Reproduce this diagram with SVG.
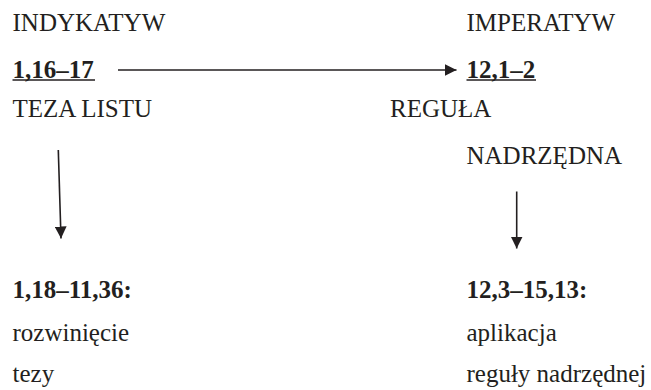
<svg xmlns="http://www.w3.org/2000/svg" width="651" height="390" viewBox="0 0 651 390">
<style>
  text { font-family: 'Liberation Serif', 'Times New Roman', serif; font-size: 25px; fill: #231f20; }
  .b { font-weight: bold; }
  .ul { stroke: #231f20; stroke-width: 1.6; }
  .conn { stroke: #231f20; stroke-width: 1.6; fill: none; }
</style>
<defs>
  <marker id="ah" viewBox="0 0 12 12" refX="12" refY="6" markerWidth="12" markerHeight="12" markerUnits="userSpaceOnUse" orient="auto">
    <path d="M0,0 L12,6 L0,12 Z" fill="#231f20"/>
  </marker>
</defs>
<rect width="651" height="390" fill="#ffffff"/>
<g id="indykatyw">
  <text x="12.5" y="31">INDYKATYW</text>
  <text class="b" x="12.5" y="77.5">1,16–17</text>
  <line class="ul" x1="12.5" y1="80" x2="95" y2="80"/>
  <text x="12.5" y="117">TEZA LISTU</text>
</g>
<g id="imperatyw">
  <text x="466.5" y="31">IMPERATYW</text>
  <text class="b" x="466.5" y="77.5">12,1–2</text>
  <line class="ul" x1="466.5" y1="80" x2="536" y2="80"/>
  <text x="390" y="117">REGUŁA</text>
  <text x="466.5" y="164">NADRZĘDNA</text>
</g>
<g id="rozwiniecie">
  <text class="b" x="12.5" y="298">1,18–11,36:</text>
  <text x="12.5" y="341">rozwinięcie</text>
  <text x="12.5" y="382">tezy</text>
</g>
<g id="aplikacja">
  <text class="b" x="466.5" y="298">12,3–15,13:</text>
  <text x="466.5" y="341">aplikacja</text>
  <text x="466.5" y="382">reguły nadrzędnej</text>
</g>
<g id="connectors">
  <line class="conn" x1="118" y1="70" x2="456.5" y2="70" marker-end="url(#ah)"/>
  <line class="conn" x1="58.3" y1="150" x2="61" y2="238.5" marker-end="url(#ah)"/>
  <line class="conn" x1="516.7" y1="191.5" x2="516.7" y2="248.5" marker-end="url(#ah)"/>
</g>
</svg>
